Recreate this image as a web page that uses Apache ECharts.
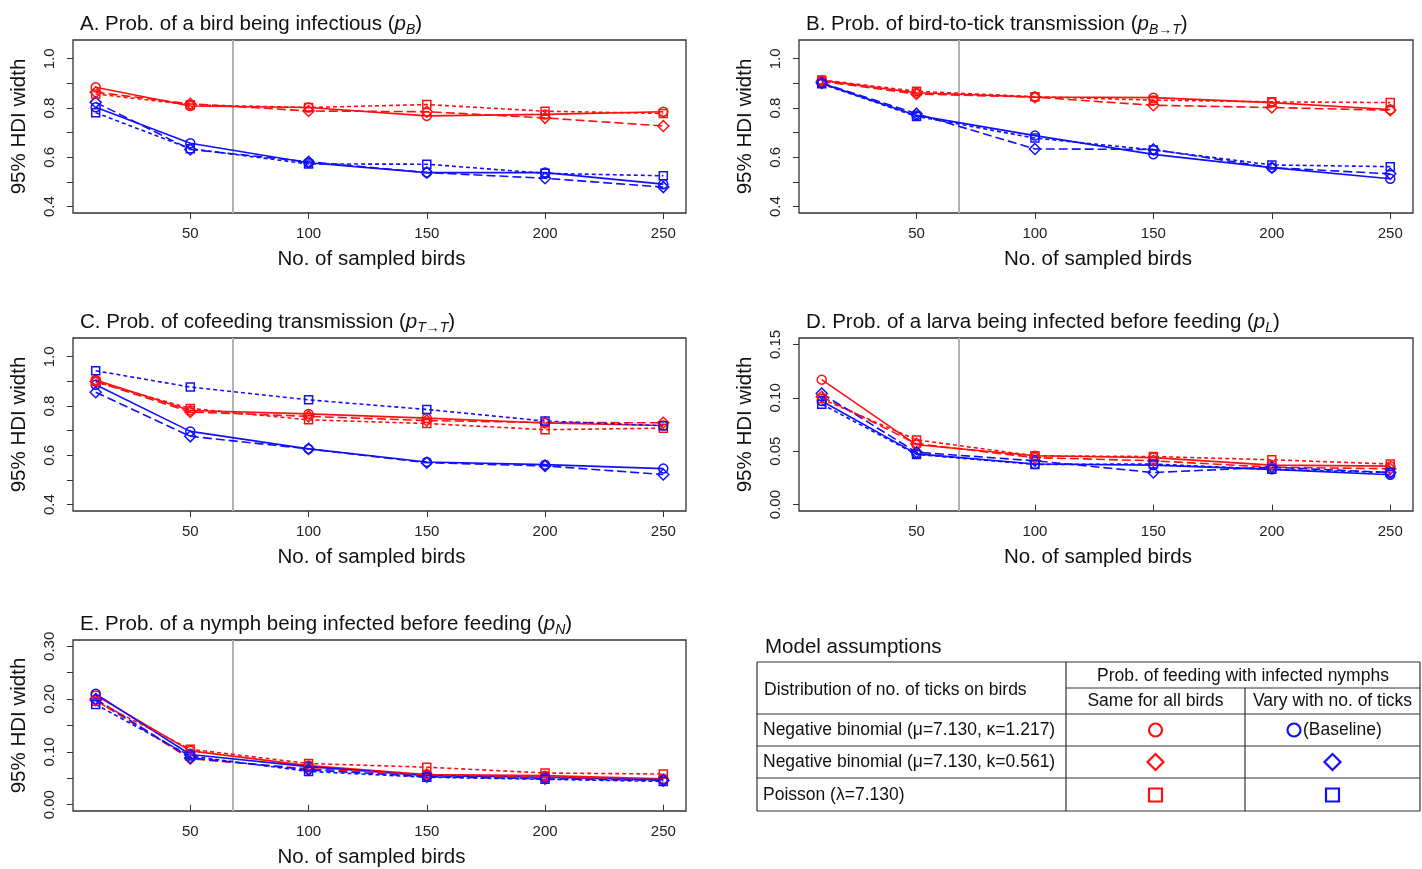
<!DOCTYPE html>
<html><head><meta charset="utf-8">
<script src="https://cdn.jsdelivr.net/npm/echarts@6/dist/echarts.min.js"></script>
<style>html,body{margin:0;padding:0;background:#fff}#c{width:1422px;height:869px}</style>
</head><body><div id="c"></div>
<script>
// ---- data ----
const sampleSizes = [10, 50, 100, 150, 200, 250];
const xTickValues = [50, 100, 150, 200, 250];
const probTicks = [0.4, 0.5, 0.6, 0.7, 0.8, 0.9, 1.0];
const probLabels = [0.4, 0.6, 0.8, 1.0];
const larvaTicks = [0, 0.05, 0.10, 0.15];
const larvaLabels = [0, 0.05, 0.10, 0.15];
const nymphTicks = [0, 0.05, 0.10, 0.15, 0.20, 0.25, 0.30];
const nymphLabels = [0, 0.10, 0.20, 0.30];
const cutoffBirds = 68;

// Panel A: p_B
const A_nb1_same  = [0.884, 0.808, 0.802, 0.768, 0.774, 0.785];
const A_nb1_vary  = [0.803, 0.657, 0.578, 0.538, 0.538, 0.491];
const A_nb2_same  = [0.864, 0.817, 0.788, 0.785, 0.760, 0.727];
const A_nb2_vary  = [0.823, 0.632, 0.582, 0.538, 0.515, 0.479];
const A_pois_same = [0.857, 0.813, 0.802, 0.814, 0.787, 0.778];
const A_pois_vary = [0.781, 0.635, 0.573, 0.572, 0.535, 0.525];
// Panel B: p_B->T
const B_nb1_same  = [0.912, 0.862, 0.845, 0.842, 0.822, 0.794];
const B_nb1_vary  = [0.900, 0.770, 0.688, 0.612, 0.558, 0.513];
const B_nb2_same  = [0.908, 0.857, 0.844, 0.811, 0.802, 0.791];
const B_nb2_vary  = [0.902, 0.777, 0.634, 0.632, 0.558, 0.533];
const B_pois_same = [0.914, 0.868, 0.846, 0.832, 0.825, 0.822];
const B_pois_vary = [0.898, 0.766, 0.678, 0.630, 0.569, 0.562];
// Panel C: p_T->T
const C_nb1_same  = [0.906, 0.782, 0.768, 0.751, 0.731, 0.721];
const C_nb1_vary  = [0.886, 0.697, 0.626, 0.573, 0.562, 0.546];
const C_nb2_same  = [0.899, 0.776, 0.758, 0.741, 0.733, 0.732];
const C_nb2_vary  = [0.856, 0.677, 0.626, 0.570, 0.557, 0.522];
const C_pois_same = [0.899, 0.790, 0.744, 0.729, 0.704, 0.710];
const C_pois_vary = [0.943, 0.877, 0.825, 0.786, 0.739, 0.720];
// Panel D: p_L
const D_nb1_same  = [0.117, 0.056, 0.0457, 0.044, 0.037, 0.036];
const D_nb1_vary  = [0.097, 0.0475, 0.038, 0.037, 0.033, 0.028];
const D_nb2_same  = [0.101, 0.057, 0.044, 0.041, 0.035, 0.0335];
const D_nb2_vary  = [0.104, 0.049, 0.041, 0.030, 0.035, 0.030];
const D_pois_same = [0.099, 0.0606, 0.0457, 0.045, 0.042, 0.038];
const D_pois_vary = [0.094, 0.047, 0.0376, 0.038, 0.033, 0.030];
// Panel E: p_N
const E_nb1_same  = [0.207, 0.102, 0.074, 0.057, 0.055, 0.049];
const E_nb1_vary  = [0.210, 0.095, 0.072, 0.055, 0.052, 0.047];
const E_nb2_same  = [0.198, 0.087, 0.068, 0.057, 0.052, 0.046];
const E_nb2_vary  = [0.200, 0.089, 0.066, 0.053, 0.049, 0.046];
const E_pois_same = [0.196, 0.105, 0.078, 0.071, 0.060, 0.058];
const E_pois_vary = [0.190, 0.092, 0.063, 0.052, 0.048, 0.044];

const titles = {
  A: 'A. Prob. of a bird being infectious ({p|p}{s|B})',
  B: 'B. Prob. of bird-to-tick transmission ({p|p}{s|B→T})',
  C: 'C. Prob. of cofeeding transmission ({p|p}{s|T→T})',
  D: 'D. Prob. of a larva being infected before feeding ({p|p}{s|L})',
  E: 'E. Prob. of a nymph being infected before feeding ({p|p}{s|N})'
};
const legendRows = ['Negative binomial (μ=7.130, κ=1.217)', 'Negative binomial (μ=7.130, k=0.561)', 'Poisson (λ=7.130)'];

// ---- styling / layout ----
const FONT = '"Liberation Sans", Arial, Helvetica, sans-serif';
const RED = '#ff1010', BLUE = '#1010ff';
const panels = [
  {key:'A', series:[A_nb1_same,A_nb1_vary,A_nb2_same,A_nb2_vary,A_pois_same,A_pois_vary], ymin:0.374, ymax:1.076, ticks:probTicks, labels:probLabels, dig:1, left:73, top:40, width:613, height:173},
  {key:'B', series:[B_nb1_same,B_nb1_vary,B_nb2_same,B_nb2_vary,B_pois_same,B_pois_vary], ymin:0.374, ymax:1.076, ticks:probTicks, labels:probLabels, dig:1, left:799, top:40, width:614, height:173},
  {key:'C', series:[C_nb1_same,C_nb1_vary,C_nb2_same,C_nb2_vary,C_pois_same,C_pois_vary], ymin:0.374, ymax:1.076, ticks:probTicks, labels:probLabels, dig:1, left:73, top:338, width:613, height:173},
  {key:'D', series:[D_nb1_same,D_nb1_vary,D_nb2_same,D_nb2_vary,D_pois_same,D_pois_vary], ymin:-0.006, ymax:0.156, ticks:larvaTicks, labels:larvaLabels, dig:2, left:799, top:338, width:614, height:173},
  {key:'E', series:[E_nb1_same,E_nb1_vary,E_nb2_same,E_nb2_vary,E_pois_same,E_pois_vary], ymin:-0.012, ymax:0.312, ticks:nymphTicks, labels:nymphLabels, dig:2, left:73, top:640, width:613, height:172}
];
const seriesStyles = [
  {color:RED,  symbol:'circle',  size:9,  dash:'solid'},
  {color:BLUE, symbol:'circle',  size:9,  dash:'solid'},
  {color:RED,  symbol:'diamond', size:11, dash:[9,4]},
  {color:BLUE, symbol:'diamond', size:11, dash:[9,4]},
  {color:RED,  symbol:'rect',    size:8,  dash:[4,3]},
  {color:BLUE, symbol:'rect',    size:8,  dash:[4,3]}
];

const option = {animation:false, backgroundColor:'#fff', title:[], grid:[], xAxis:[], yAxis:[], series:[], graphic:[]};
panels.forEach((p, i) => {
  option.title.push({
    text: titles[p.key], left: p.left + 2, top: p.top - 33,
    textStyle: {fontFamily: FONT, fontSize: 20.5, fontWeight: 'normal', color: '#111',
      rich: {p: {fontFamily: FONT, fontSize: 20.5, fontStyle: 'italic', color:'#111'},
             s: {fontFamily: FONT, fontSize: 14, fontStyle: 'italic', color:'#111', padding:[11,0,0,0]}}}
  });
  option.grid.push({left:p.left, top:p.top, width:p.width, height:p.height, show:true, borderColor:'#333', borderWidth:1.3, backgroundColor:'#fff'});
  option.xAxis.push({
    type:'value', gridIndex:i, min:0.4, max:259.6,
    name:'No. of sampled birds', nameLocation:'middle', nameGap:36,
    nameTextStyle:{fontFamily:FONT, fontSize:20.5, color:'#111', padding:[0,16,0,0]},
    axisLine:{show:false}, splitLine:{show:false},
    axisTick:{show:true, inside:false, length:6, customValues:xTickValues, lineStyle:{color:'#333'}},
    axisLabel:{customValues:xTickValues, margin:13, fontFamily:FONT, fontSize:15, color:'#222'}
  });
  option.yAxis.push({
    type:'value', gridIndex:i, min:p.ymin, max:p.ymax,
    name:'95% HDI width', nameLocation:'middle', nameGap:43,
    nameTextStyle:{fontFamily:FONT, fontSize:20.5, color:'#111'},
    axisLine:{show:false}, splitLine:{show:false},
    axisTick:{show:true, inside:false, length:6, customValues:p.ticks, lineStyle:{color:'#333'}},
    axisLabel:{customValues:p.labels, rotate:90, margin:16, fontFamily:FONT, fontSize:15, color:'#222',
      formatter: v => Number(v).toFixed(p.dig)}
  });
  p.series.forEach((vals, k) => {
    const st = seriesStyles[k];
    const s = {
      type:'line', xAxisIndex:i, yAxisIndex:i,
      data: sampleSizes.map((x, j) => [x, vals[j]]),
      symbol: st.symbol, symbolSize: st.size, showSymbol:true,
      lineStyle:{color:st.color, width:1.6, type:st.dash},
      itemStyle:{color:'rgba(255,255,255,0)', borderColor:st.color, borderWidth:1.5},
      z: 3
    };
    if (k === 0) {
      s.markLine = {silent:true, symbol:'none', label:{show:false},
        lineStyle:{color:'#b3b3b3', width:2, type:'solid'}, data:[{xAxis:cutoffBirds}], z:1};
    }
    option.series.push(s);
  });
});

// ---- legend table ----
const G = option.graphic;
const line = (x1,y1,x2,y2) => G.push({type:'line', shape:{x1,y1,x2,y2}, style:{stroke:'#333', lineWidth:1.2}});
const txt = (x,y,t,align,size) => G.push({type:'text', x, y, style:{text:t, fill:'#111', font:`${size||17.5}px ${FONT}`, textAlign:align||'left', textVerticalAlign:'middle'}});
txt(765, 647, 'Model assumptions', 'left', 20.5);
const TL=757, TR=1420, C1=1066, C2=1245;
line(TL,662,TR,662); line(C1,688,TR,688); line(TL,714,TR,714); line(TL,746,TR,746); line(TL,778,TR,778); line(TL,811,TR,811);
line(TL,662,TL,811); line(C1,662,C1,811); line(C2,688,C2,811); line(TR,662,TR,811);
txt((C1+TR)/2, 676, 'Prob. of feeding with infected nymphs', 'center');
txt(764, 690, 'Distribution of no. of ticks on birds', 'left');
txt((C1+C2)/2, 701, 'Same for all birds', 'center');
txt((C2+TR)/2, 701, 'Vary with no. of ticks', 'center');
const rowMid = [730, 762, 795];
legendRows.forEach((t, r) => txt(763, rowMid[r], t, 'left'));
const cx1 = (C1+C2)/2, cx2 = (C2+TR)/2;
const sym = (kind, cx, cy, color) => {
  const style = {stroke:color, fill:'none', lineWidth:2.2};
  if (kind==='circle') G.push({type:'circle', shape:{cx, cy, r:6.5}, style});
  else if (kind==='diamond') G.push({type:'polygon', shape:{points:[[cx,cy-8],[cx+8,cy],[cx,cy+8],[cx-8,cy]]}, style});
  else G.push({type:'rect', shape:{x:cx-6.5, y:cy-6.5, width:13, height:13}, style});
};
sym('circle', cx1, rowMid[0], RED); sym('circle', 1294, rowMid[0], BLUE);
txt(1303, rowMid[0], '(Baseline)', 'left');
sym('diamond', cx1, rowMid[1], RED); sym('diamond', cx2, rowMid[1], BLUE);
sym('rect', cx1, rowMid[2], RED); sym('rect', cx2, rowMid[2], BLUE);

const chart = echarts.init(document.getElementById('c'), null, {renderer:'canvas'});
chart.setOption(option);
</script>
</body></html>
